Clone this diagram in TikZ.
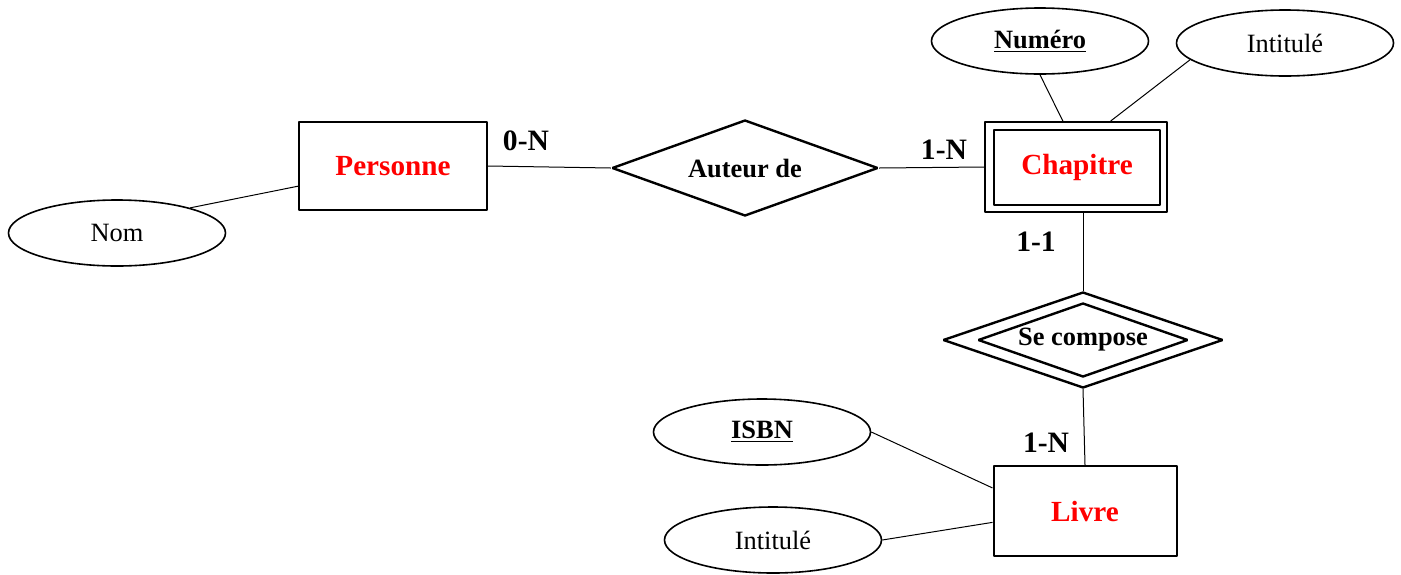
\documentclass[tikz,border=0pt]{standalone}
\usepackage{fontspec}
\setmainfont{Liberation Serif}
\usetikzlibrary{shapes.geometric}
\begin{document}
\begin{tikzpicture}[x=0.5pt,y=-0.5pt,line join=bevel]
  \tikzstyle{entity}=[draw,line width=1pt,minimum width=94pt,minimum height=44pt,inner sep=0pt,text=red,font=\fontsize{14.6}{17}\selectfont\bfseries]
  \tikzstyle{relation}=[diamond,draw,line width=1.2pt,inner sep=0pt,font=\fontsize{13.2}{16}\selectfont\bfseries]
  \tikzstyle{attr}=[ellipse,draw,line width=0.8pt,minimum width=108.5pt,minimum height=33pt,inner sep=0pt,font=\fontsize{13.2}{16}\selectfont]
  \tikzstyle{card}=[font=\fontsize{14.8}{17}\selectfont\bfseries]
  \tikzstyle{link}=[line width=0.5pt]
  \useasboundingbox (0,0) rectangle (1401,574);
  % entities
  \node[entity] (pers) at (393,166) {Personne};
  \node[entity,minimum width=91pt,minimum height=45pt] (chap) at (1076,167) {};
  \node[entity,minimum width=83pt,minimum height=37.5pt] (chapIn) at (1077,167.5) {Chapitre};
  \node[entity,minimum width=91.5pt,minimum height=45pt] (livre) at (1085,511) {Livre};
  % relations
  \node[relation,aspect=2.77,minimum width=133pt,minimum height=48pt] (auteur) at (745,168) {Auteur de};
  \node[relation,aspect=2.92,minimum width=140pt,minimum height=48pt] (compose) at (1083,340) {};
  \node[relation,aspect=2.84,minimum width=105pt,minimum height=37pt] (composeIn) at (1083,340) {Se compose};
  % attributes
  \node[attr] (nom) at (117,233) {Nom};
  \node[attr] (num) at (1040,41) {\textbf{\underline{Numéro}}};
  \node[attr] (intC) at (1285,43) {Intitulé};
  \node[attr] (isbn) at (762,432) {\textbf{\underline{ISBN}}};
  \node[attr] (intL) at (773,540) {Intitulé};
  % cardinalities
  \node[card] (c_1) at (526,141) {0-N};
  \node[card] (c_2) at (944,150) {1-N};
  \node[card] (c_3) at (1036,242) {1-1};
  \node[card] (c_4) at (1046,443) {1-N};
  % links
  \draw[link] (nom.19) -- (pers.192);
  \draw[link] (pers.east) -- (auteur.west);
  \draw[link] (auteur.east) -- (chap.west);
  \draw[link] (num.south) -- (chap.106);
  \draw[link] (intC.190) -- (chap.53);
  \draw[link] (compose.north) -- (compose.north |- chap.south);
  \draw[link] (compose.south) -- (livre.north);
  \draw[link] (isbn.east) -- (livre.166);
  \draw[link] (intL.east) -- (livre.187);
\end{tikzpicture}
\end{document}
